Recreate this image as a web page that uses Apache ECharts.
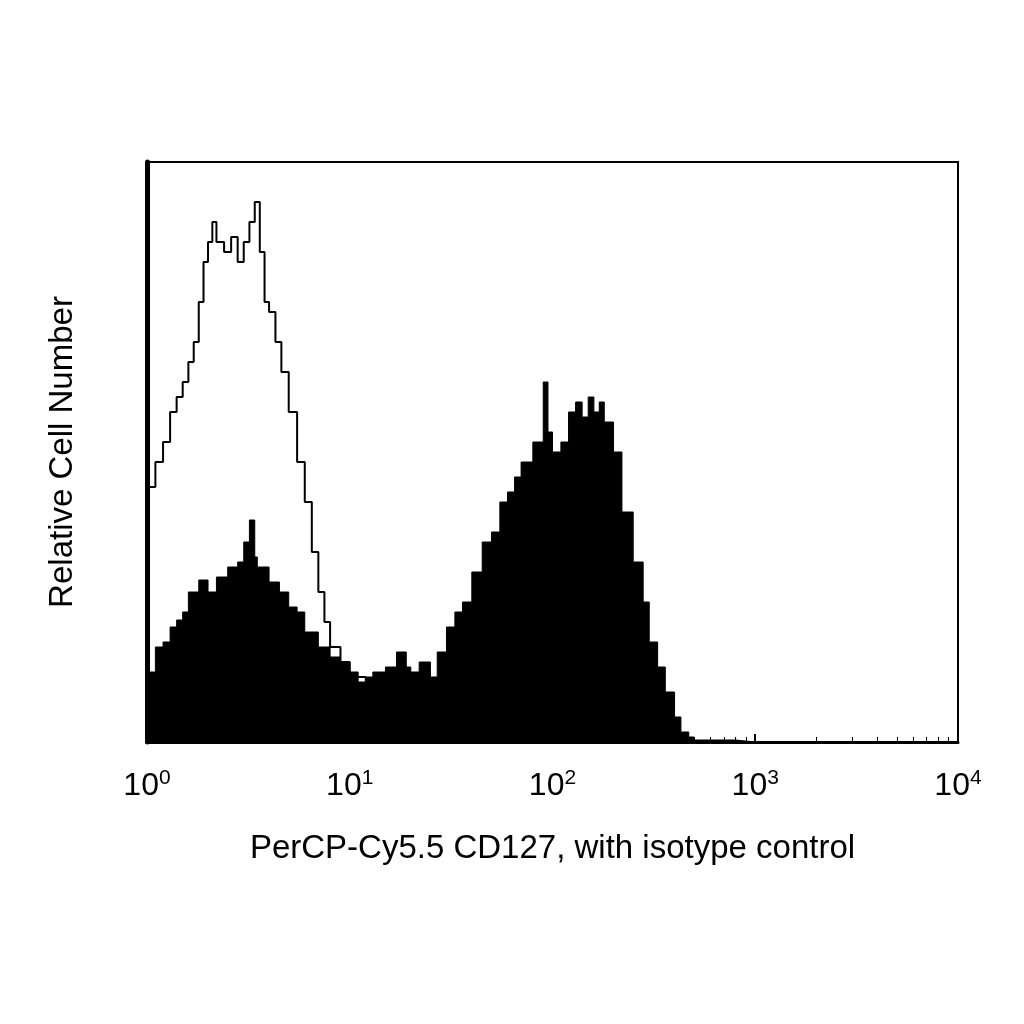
<!DOCTYPE html><html><head><meta charset="utf-8"><script src="https://cdn.jsdelivr.net/npm/echarts@6/dist/echarts.min.js"></script></head><body style="margin:0;background:#fff"><div id="c" style="width:1024px;height:1024px"></div><script>
const filledX=[1,1.1,1.2,1.3,1.4,1.5,1.6,1.8,2,2.2,2.5,2.8,3,3.2,3.4,3.5,4,4.5,5,5.5,6,7,8,9,10,11,12,13,15,17,19,20,22,25,27,30,33,36,40,45,50,55,60,65,70,80,90,95,100,110,120,130,140,150,160,170,180,200,220,250,280,300,330,360,400,430,470,500,600,800,1000,10000];
const filledY=[82,70,95,100,115,122,130,150,162,150,165,175,180,200,222,185,175,160,150,135,130,110,95,85,80,70,60,65,70,75,90,75,70,80,65,90,115,130,140,170,200,210,240,250,265,280,300,360,310,290,300,330,340,325,345,330,340,320,290,230,180,140,100,75,50,25,10,5,2,2,0,0];
const isoX=[1,1.1,1.2,1.3,1.4,1.5,1.6,1.7,1.8,1.9,2,2.1,2.2,2.4,2.6,2.8,3,3.2,3.4,3.6,3.8,4,4.3,4.6,5,5.5,6,6.5,7,7.5,8,9,10,12,20,30,50,100];
const isoY=[245,255,280,300,330,345,360,380,400,440,480,500,520,500,490,505,480,500,520,540,490,440,430,400,370,330,280,240,190,150,120,95,80,65,50,30,10,0];
const ch=echarts.init(document.getElementById('c'));
ch.setOption({animation:false,
grid:{left:147,right:66,top:162,bottom:282,show:true,borderColor:'#000',borderWidth:2},
xAxis:{type:'log',min:1,max:10000,logBase:10,name:'PerCP-Cy5.5 CD127, with isotype control',nameLocation:'middle',nameGap:90,
 nameTextStyle:{fontFamily:'Liberation Sans',fontSize:33,color:'#000'},
 axisLine:{lineStyle:{color:'#000',width:3}},axisTick:{inside:true,length:8,lineStyle:{color:'#000',width:2}},
 minorTick:{show:true,splitNumber:9,length:5,lineStyle:{color:'#000'}},splitLine:{show:false},
 axisLabel:{margin:26,fontFamily:'Liberation Sans',fontSize:32,color:'#000',formatter:v=>{const e=Math.round(Math.log10(v));return '10{s|'+e+'}';},rich:{s:{fontSize:21,verticalAlign:'top',padding:[0,0,16,0],fontFamily:'Liberation Sans',color:'#000'}}}},
yAxis:{type:'value',min:0,max:580,name:'Relative Cell Number',nameLocation:'middle',nameGap:68,
 nameTextStyle:{fontFamily:'Liberation Sans',fontSize:33,color:'#000'},
 axisLine:{show:true,lineStyle:{color:'#000',width:5}},axisTick:{show:false},axisLabel:{show:false},splitLine:{show:false}},
series:[
 {type:'line',step:'start',symbol:'none',data:filledX.map((x,i)=>[x,filledY[i]]),lineStyle:{color:'#000',width:1},areaStyle:{color:'#000',opacity:1}},
 {type:'line',step:'start',symbol:'none',data:isoX.map((x,i)=>[x,isoY[i]]),lineStyle:{color:'#000',width:2}}
]});
</script></body></html>
